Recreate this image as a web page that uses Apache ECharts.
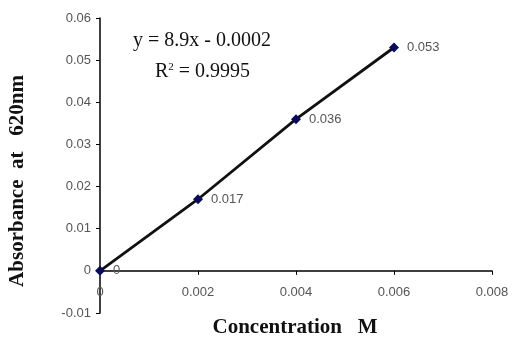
<!DOCTYPE html>
<html>
<head>
<meta charset="utf-8">
<script src="https://cdn.jsdelivr.net/npm/echarts@6/dist/echarts.min.js"></script>
<style>
  html, body { margin: 0; padding: 0; background: #fff; }
  #chart { width: 512px; height: 340px; }
</style>
</head>
<body>
<div id="chart"></div>
<script>
// concentration (M) and absorbance
const concentration = [0, 0.002, 0.004, 0.006]
const absorbance = [0, 0.017, 0.036, 0.053]
const pointLabels = ['0', '0.017', '0.036', '0.053']
const xTicks = [0, 0.002, 0.004, 0.006, 0.008]
const yTicks = [-0.01, 0, 0.01, 0.02, 0.03, 0.04, 0.05, 0.06]

const chart = echarts.init(document.getElementById('chart'))

const tickFont = {
  color: '#555',
  fontSize: 13,
  fontFamily: 'Liberation Sans'
}

const option = {
  animation: false,
  backgroundColor: '#fff',
  grid: { left: 100, right: 20, top: 18, bottom: 27 },
  xAxis: {
    type: 'value',
    min: 0,
    max: 0.008,
    interval: 0.002,
    axisLine: { onZero: true, lineStyle: { color: '#000', width: 1.5 } },
    axisTick: { show: true, length: 4, lineStyle: { color: '#000' } },
    splitLine: { show: false },
    // labels sit just under the zero line, not at the grid bottom
    axisLabel: Object.assign({ margin: -27, formatter: v => xTicks.includes(+v.toFixed(3)) ? String(+v.toFixed(3)) : '' }, tickFont)
  },
  yAxis: {
    type: 'value',
    min: -0.01,
    max: 0.06,
    interval: 0.01,
    axisLine: { show: true, lineStyle: { color: '#000', width: 1.5 } },
    axisTick: { show: true, length: 4, lineStyle: { color: '#000' } },
    splitLine: { show: false },
    axisLabel: Object.assign({ margin: 9, formatter: v => String(+v.toFixed(2)) }, tickFont)
  },
  series: [
    {
      type: 'line',
      data: concentration.map((c, i) => [c, absorbance[i]]),
      symbol: 'diamond',
      symbolSize: 10,
      itemStyle: { color: '#0b0b5c' },
      lineStyle: { color: '#111', width: 2.8 },
      label: {
        show: true,
        position: 'right',
        distance: 8,
        color: '#555',
        fontSize: 13,
        fontFamily: 'Liberation Sans',
        formatter: p => pointLabels[p.dataIndex]
      },
      z: 3
    }
  ],
  graphic: [
    {
      type: 'text',
      left: 133,
      top: 31,
      style: {
        text: 'y = 8.9x - 0.0002',
        font: '20px "Liberation Serif"',
        fill: '#111'
      }
    },
    {
      type: 'text',
      left: 155,
      top: 62,
      style: {
        text: '{a|R}{b|2}{a| = 0.9995}',
        rich: {
          a: { font: '20px "Liberation Serif"', fill: '#111', verticalAlign: 'bottom' },
          b: { font: '11px "Liberation Serif"', fill: '#111', verticalAlign: 'top' }
        }
      }
    },
    {
      type: 'text',
      x: 18,
      y: 181,
      rotation: Math.PI / 2,
      style: {
        text: 'Absorbance  at   620nm',
        font: 'bold 21px "Liberation Serif"',
        fill: '#111',
        align: 'center',
        verticalAlign: 'middle'
      }
    },
    {
      type: 'text',
      x: 295,
      y: 328,
      style: {
        text: 'Concentration   M',
        font: 'bold 21px "Liberation Serif"',
        fill: '#111',
        align: 'center',
        verticalAlign: 'middle'
      }
    }
  ]
}

chart.setOption(option)
</script>
</body>
</html>
